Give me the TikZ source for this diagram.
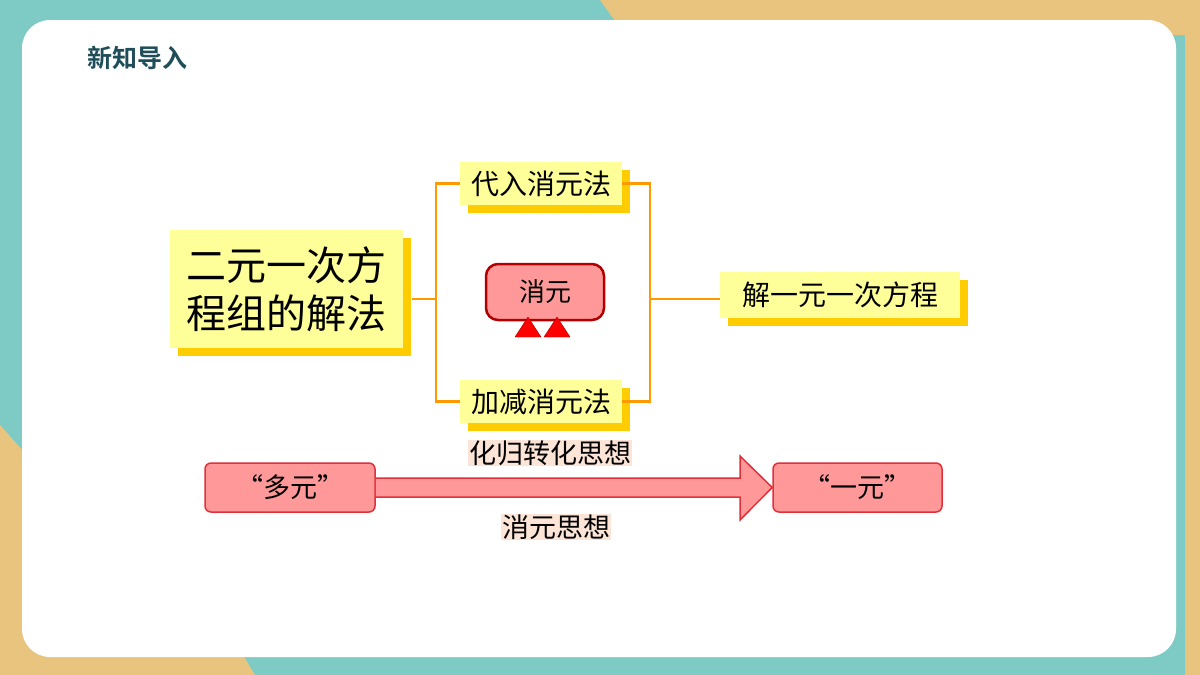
\documentclass[tikz,border=0pt]{standalone}
\usepackage{fontspec}
\setmainfont{Noto Sans CJK SC}
\newfontfamily\cjkb{Noto Sans CJK SC}[BoldFont={* Bold}]
\begin{document}
\begin{tikzpicture}[x=1pt,y=-1pt,
  ybox/.style={fill=ylw,inner sep=0pt,font=\fontsize{28}{32}\selectfont,anchor=north west},
  shadowc/.style={fill=ylwd},
  pbox/.style={draw=boxred,line width=1.5pt,fill=pinkf,rounded corners=6pt,inner sep=0pt,font=\fontsize{27}{30}\selectfont},
  lbl/.style={fill=peach,inner sep=1pt,font=\fontsize{27}{30}\selectfont},
  con/.style={draw=orng,line width=2.5pt}]
\definecolor{teal1}{HTML}{7ECBC6}
\definecolor{tan1}{HTML}{E8C47F}
\definecolor{ylw}{HTML}{FFFF99}
\definecolor{ylwd}{HTML}{FFCC00}
\definecolor{boxred}{HTML}{E0303A}
\definecolor{pinkf}{HTML}{FF9999}
\definecolor{peach}{HTML}{FCE4D6}
\definecolor{orng}{HTML}{FF9900}
\definecolor{ttl}{HTML}{1F4E5A}
\useasboundingbox (0,0) rectangle (1200,675);
\fill[teal1] (0,0) rectangle (1200,675);
\fill[tan1] (600,0) -- (1200,0) -- (1200,675) -- (1185,675) -- (1185,35) -- (625,35) -- cycle;
\fill[tan1] (0,425) -- (40,470) -- (40,650) -- (240,650) -- (255,675) -- (0,675) -- cycle;
\fill[white] (22,20) [rounded corners=28pt] rectangle (1176,657);
\node[anchor=west,text=ttl,font=\cjkb\bfseries\fontsize{25}{28}\selectfont] (title) at (84,58) {新知导入};
% big box
\fill[shadowc] (178,238) rectangle (411,356);
\node[ybox,minimum width=233pt,minimum height=118pt,align=center,font=\fontsize{40}{48}\selectfont] (main) at (170,230) {二元一次方\\程组的解法};
\fill[shadowc] (468,170) rectangle (630,213);
\node[ybox,minimum width=162pt,minimum height=43pt] (dr) at (460,162) {代入消元法};
\fill[shadowc] (468,388) rectangle (630,431);
\node[ybox,minimum width=162pt,minimum height=43pt] (jj) at (460,380) {加减消元法};
\fill[shadowc] (728,280) rectangle (968,326);
\node[ybox,minimum width=240pt,minimum height=46pt] (jy) at (720,272) {解一元一次方程};
\node[pbox,minimum width=118pt,minimum height=56pt,line width=2.5pt,draw=red!70!black,rounded corners=12pt,font=\fontsize{26}{30}\selectfont] (xy) at (545,292) {消元};
\fill[red,draw=red!70!black] (515,337) coordinate (t1) -- (528,317) -- (541,337) -- cycle;
\fill[red,draw=red!70!black] (544,337) coordinate (t2) -- (557,317) -- (570,337) -- cycle;
% connectors
\coordinate (L) at (436,299);
\coordinate (R) at (650,299);
\coordinate (M) at (412,299);
\draw[con] (M) -- (L);
\draw[con] (dr.west) -| (L) |- (jj.west);
\draw[con] (dr.east) -| (R) |- (jj.east);
\draw[con] (R) -- (R -| jy.west);
% arrow
\node[pbox,minimum width=170pt,minimum height=49pt] (dy) at (290,487.5) {“多元”};
\node[pbox,minimum width=169pt,minimum height=49pt] (yy) at (857.5,487.5) {“一元”};
\draw[boxred,fill=pinkf,line width=1.5pt] (dy.east |- 0,478) -- (740,478) -- (740,456) -- (yy.west) -- (740,520) -- (740,497) -- (dy.east |- 0,497);
\node[lbl] (hg) at (550,453) {化归转化思想};
\node[lbl] (xs) at (556,527) {消元思想};
\end{tikzpicture}
\end{document}
